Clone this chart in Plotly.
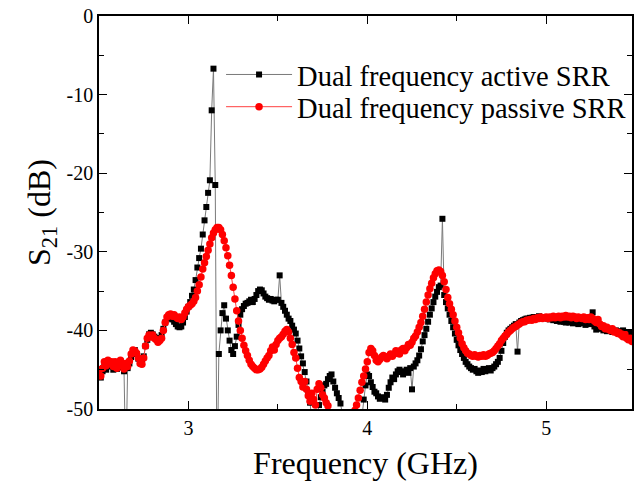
import numpy as np
import plotly.graph_objects as go

# Frequency sweep: 2.50 GHz to 5.48 GHz, 0.01 GHz step
f_start = 2.50
f_step = 0.01

# S21 (dB), dual frequency active SRR (black squares)
active_db = [
    -45.5, -46.0, -45.2, -44.6, -45.0, -44.3, -44.6, -44.5, -45.0, -44.4,   # 2.50
    -44.9, -44.6, -44.2, -44.7, -45.2, -58.0, -44.8, -44.2, -43.4, -42.8,   # 2.60
    -42.5, -43.0, -43.6, -44.0, -44.0, -43.3, -42.0, -41.2, -40.5, -40.3,   # 2.70
    -40.5, -40.8, -41.0, -41.2, -41.0, -40.6, -39.8, -39.0, -38.5, -38.2,   # 2.80
    -38.4, -38.6, -38.9, -39.2, -39.5, -39.6, -39.5, -39.0, -38.3, -37.6,   # 2.90
    -37.0, -36.4, -35.6, -34.8, -33.6, -32.0, -30.8, -29.6, -27.8, -26.0,   # 3.00
    -24.3, -22.5, -20.9, -12.0, -6.7, -21.5, -60.0, -43.0, -40.0, -37.8,    # 3.10
    -36.8, -38.5, -40.0, -41.3, -42.5, -43.0, -42.0, -40.8, -39.3, -38.0,   # 3.20
    -37.3, -36.9, -36.6, -36.5, -36.3, -36.1, -36.4, -36.0, -35.5, -35.0,   # 3.30
    -34.8, -34.9, -35.3, -35.7, -35.9, -36.1, -36.0, -36.2, -36.3, -36.1,   # 3.40
    -36.1, -33.0, -36.5, -37.0, -37.5, -38.0, -38.5, -38.8, -39.4, -39.9,   # 3.50
    -40.4, -41.3, -42.3, -43.3, -44.2, -45.3, -46.5, -48.0, -49.2, -51.5,   # 3.60
    -52.0, -52.0, -51.0, -49.5, -48.5, -47.8, -47.0, -46.8, -46.2, -45.8,   # 3.70
    -45.6, -46.5, -47.3, -48.0, -48.6, -49.3, -50.5, -52.0, -52.0, -52.0,   # 3.80
    -52.0, -52.0, -52.0, -52.0, -52.0, -52.0, -52.0, -51.0, -48.8, -47.0,   # 3.90
    -45.6, -45.8, -46.6, -47.2, -47.8, -48.0, -48.4, -48.7, -48.6, -48.5,   # 4.00
    -48.8, -48.2, -47.3, -46.6, -46.0, -46.2, -45.6, -45.2, -45.0, -45.3,   # 4.10
    -45.6, -45.2, -45.0, -45.4, -44.8, -47.5, -44.6, -44.2, -43.8, -43.2,   # 4.20
    -42.4, -41.4, -40.6, -39.8, -38.9, -38.0, -37.2, -36.4, -35.7, -35.1,   # 4.30
    -34.5, -34.3, -25.8, -35.5, -36.4, -37.2, -38.0, -38.8, -39.6, -40.4,   # 4.40
    -41.2, -41.9, -42.5, -43.0, -43.5, -44.0, -44.3, -44.6, -44.8, -45.0,   # 4.50
    -44.9, -45.2, -45.4, -45.1, -45.3, -44.9, -45.2, -45.0, -44.8, -45.1,   # 4.60
    -44.8, -44.6, -44.3, -44.0, -43.5, -42.6, -41.6, -40.8, -40.3, -40.0,   # 4.70
    -39.8, -39.6, -39.4, -39.2, -42.7, -39.0, -38.8, -38.7, -38.6, -38.5,   # 4.80
    -38.5, -38.4, -38.4, -38.3, -38.3, -38.3, -38.2, -38.3, -38.4, -38.3,   # 4.90
    -38.4, -38.5, -38.6, -38.5, -38.7, -38.6, -38.8, -38.7, -38.9, -38.8,   # 5.00
    -38.9, -39.0, -38.8, -39.0, -38.9, -39.1, -38.9, -39.0, -39.2, -39.0,   # 5.10
    -39.1, -39.0, -39.3, -39.1, -39.2, -39.0, -37.7, -39.5, -39.9, -39.6,   # 5.20
    -39.8, -39.7, -40.0, -39.9, -40.1, -39.8, -40.0, -40.2, -40.1, -40.0,   # 5.30
    -40.2, -40.1, -40.3, -40.0, -40.2, -40.4, -40.3, -40.2, -40.4,          # 5.40
]

# S21 (dB), dual frequency passive SRR (red circles)
passive_db = [
    -45.0, -45.8, -44.8, -44.0, -44.5, -43.8, -44.2, -44.0, -44.6, -44.0,   # 2.50
    -44.8, -44.3, -43.8, -44.5, -44.9, -44.2, -44.6, -43.9, -43.0, -42.5,   # 2.60
    -42.6, -42.9, -43.5, -44.2, -44.3, -43.5, -42.0, -41.0, -40.6, -40.8,   # 2.70
    -40.6, -41.0, -41.2, -41.5, -41.3, -41.0, -40.0, -39.0, -38.3, -38.0,   # 2.80
    -37.9, -38.2, -38.0, -38.3, -38.5, -38.3, -38.6, -38.3, -37.8, -37.3,   # 2.90
    -37.0, -36.8, -36.6, -36.3, -35.8, -35.0, -34.2, -33.2, -32.2, -31.4,   # 3.00
    -30.6, -29.8, -29.0, -28.2, -27.6, -27.2, -26.9, -26.9, -27.2, -27.8,   # 3.10
    -28.6, -29.5, -30.5, -31.7, -33.0, -34.5, -36.0, -37.5, -38.8, -40.0,   # 3.20
    -41.0, -41.9, -42.6, -43.2, -43.8, -44.3, -44.6, -44.8, -45.0, -45.0,   # 3.30
    -44.9, -44.7, -44.3, -43.9, -43.5, -43.2, -42.6, -42.1, -42.5, -41.8,   # 3.40
    -41.3, -41.0, -40.8, -40.5, -40.1, -39.9, -40.2, -41.0, -41.8, -42.8,   # 3.50
    -43.5, -44.8, -46.0, -46.5, -47.2, -46.5, -47.5, -48.3, -49.0, -48.0,   # 3.60
    -48.8, -49.5, -47.5, -46.8, -47.3, -48.2, -48.6, -49.2, -49.6, -51.0,   # 3.70
    -52.0, -52.0, -52.0, -52.0, -52.0, -52.0, -52.0, -52.0, -52.0, -52.0,   # 3.80
    -52.0, -52.0, -51.0, -50.2, -49.5, -48.6, -47.6, -46.6, -45.8, -44.9,   # 3.90
    -44.0, -42.8, -42.3, -42.6, -43.2, -43.8, -44.0, -43.7, -43.4, -43.2,   # 4.00
    -43.4, -43.6, -43.3, -43.0, -43.3, -43.0, -42.6, -42.9, -43.0, -42.5,   # 4.10
    -42.3, -42.6, -42.2, -41.8, -41.9, -41.5, -41.0, -40.7, -40.2, -39.6,   # 4.20
    -39.0, -38.2, -37.3, -36.4, -35.5, -34.7, -34.0, -33.3, -32.8, -32.4,   # 4.30
    -32.3, -32.5, -33.0, -33.8, -34.8, -35.8, -36.6, -37.3, -38.0, -38.8,   # 4.40
    -39.6, -40.3, -41.0, -41.7, -42.2, -42.6, -42.9, -43.0, -43.2, -43.3,   # 4.50
    -43.1, -43.3, -43.4, -43.2, -43.3, -43.1, -43.3, -43.2, -43.0, -42.9,   # 4.60
    -42.8, -42.6, -42.3, -42.0, -41.7, -41.3, -41.0, -40.7, -40.5, -40.2,   # 4.70
    -40.0, -39.8, -39.6, -39.5, -39.3, -39.2, -39.0, -38.9, -38.9, -38.7,   # 4.80
    -38.7, -38.6, -38.7, -38.5, -38.6, -38.4, -38.5, -38.3, -38.5, -38.4,   # 4.90
    -38.3, -38.5, -38.3, -38.4, -38.2, -38.4, -38.3, -38.2, -38.4, -38.2,   # 5.00
    -38.3, -38.1, -38.3, -38.2, -38.4, -38.2, -38.3, -38.5, -38.3, -38.4,   # 5.10
    -38.5, -38.3, -38.6, -38.4, -38.6, -38.3, -38.5, -38.8, -39.0, -38.6,   # 5.20
    -39.2, -39.5, -39.4, -39.8, -39.6, -39.9, -40.0, -39.8, -40.2, -40.1,   # 5.30
    -40.4, -40.3, -40.6, -40.8, -40.5, -41.0, -41.2, -41.0, -41.4,          # 5.40
]

series_names = ["Dual frequency active SRR", "Dual frequency passive SRR"]
x_tick_values = [3, 4, 5]
x_tick_labels = ["3", "4", "5"]
y_tick_values = [0, -10, -20, -30, -40, -50]
y_tick_labels = ["0", "-10", "-20", "-30", "-40", "-50"]

freq_active = np.round(f_start + f_step * np.arange(len(active_db)), 2)
freq_passive = np.round(f_start + f_step * np.arange(len(passive_db)), 2)

FONT = "Liberation Serif"

fig = go.Figure()
fig.add_trace(go.Scatter(
    x=freq_active, y=active_db, name=series_names[0], mode="lines+markers",
    line=dict(color="#7a7a7a", width=1),
    marker=dict(symbol="square", size=6, color="black", line=dict(width=0)),
    legend="legend",
))
fig.add_trace(go.Scatter(
    x=freq_passive, y=passive_db, name=series_names[1], mode="lines+markers",
    line=dict(color="#ff4040", width=1),
    marker=dict(symbol="circle", size=7.5, color="#ff0000", line=dict(width=0)),
    legend="legend2",
))

axis_common = dict(
    showline=True, linecolor="black", linewidth=1.5, mirror="ticks",
    ticks="inside", ticklen=8, tickwidth=1.3, tickcolor="black",
    showgrid=False, zeroline=False,
    tickfont=dict(family=FONT, size=20, color="black"),
)

fig.update_xaxes(
    range=[2.5, 5.48], tickvals=x_tick_values, ticktext=x_tick_labels,
    minor=dict(tickvals=[2.5, 3.5, 4.5, 5.5], ticks="inside", ticklen=5, tickwidth=1.2, tickcolor="black"),
    title=dict(text="Frequency (GHz)", font=dict(family=FONT, size=32, color="black"), standoff=14),
    **axis_common,
)
fig.update_yaxes(
    range=[-50, 0], tickvals=y_tick_values, ticktext=y_tick_labels,
    minor=dict(dtick=5, ticks="inside", ticklen=5, tickwidth=1.2, tickcolor="black"),
    title=dict(text="S<sub>21</sub> (dB)", font=dict(family=FONT, size=32, color="black"), standoff=6),
    **axis_common,
)

legend_common = dict(
    xanchor="left", yanchor="middle",
    bgcolor="rgba(0,0,0,0)", borderwidth=0,
    font=dict(family=FONT, size=28.5, color="black"),
    itemwidth=66,
)

fig.update_layout(
    width=639, height=486,
    margin=dict(l=99, r=7, t=16, b=77, autoexpand=False),
    plot_bgcolor="white", paper_bgcolor="white",
    font=dict(family=FONT, color="black"),
    showlegend=True,
    legend=dict(x=0.229, y=0.850, **legend_common),
    legend2=dict(x=0.229, y=0.768, **legend_common),
)

fig.write_html("out.html")
